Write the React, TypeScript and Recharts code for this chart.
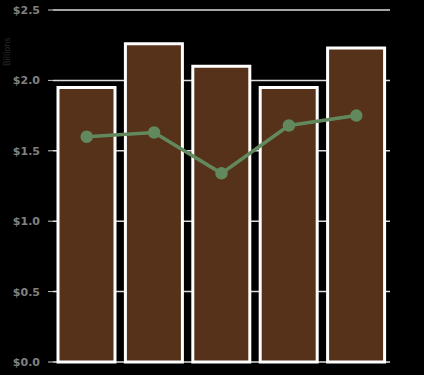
import React from 'react';
import { ComposedChart, Bar, Line, XAxis, YAxis, CartesianGrid } from 'recharts';

// Chart data
const categories = ['A', 'B', 'C', 'D', 'E'];
const barValues = [1.95, 2.26, 2.1, 1.95, 2.23];
const lineValues = [1.6, 1.63, 1.34, 1.68, 1.75];
const yTicks = [0, 0.5, 1.0, 1.5, 2.0, 2.5];

const data = categories.map((c, i) => ({ name: c, bar: barValues[i], line: lineValues[i] }));

const App: React.FC = () => {
  return (
    <div style={{ position: 'absolute', top: 0, left: 0, width: 424, height: 375, background: '#000' }}>
      <ComposedChart
        width={424}
        height={375}
        data={data}
        margin={{ top: 10, right: 34, bottom: 13, left: 0 }}
        barCategoryGap={5}
      >
        <CartesianGrid vertical={false} stroke="#dcdcdc" strokeWidth={1.5} />
        <XAxis dataKey="name" hide />
        <YAxis
          domain={[0, 2.5]}
          ticks={yTicks}
          width={53}
          axisLine={false}
          tickLine={{ stroke: '#ccc', strokeWidth: 1 }}
          tickSize={5}
          tickMargin={8}
          tickFormatter={(v: number) => `$${v.toFixed(1)}`}
          tick={{ fill: '#808080', fontSize: 11, fontFamily: 'DejaVu Sans', fontWeight: 'bold' }}
          label={{
            value: 'Billions',
            angle: -90,
            position: 'insideLeft',
            dx: 2,
            dy: -120,
            fill: '#2a2a2a',
            fontSize: 8,
            fontFamily: 'DejaVu Sans',
          }}
        />
        <Bar dataKey="bar" fill="#553219" stroke="#ffffff" strokeWidth={3} isAnimationActive={false} />
        <Line
          dataKey="line"
          stroke="#62895d"
          strokeWidth={3.5}
          dot={{ r: 4.5, fill: '#62895d', stroke: '#62895d' }}
          isAnimationActive={false}
        />
      </ComposedChart>
    </div>
  );
};

export default App;
